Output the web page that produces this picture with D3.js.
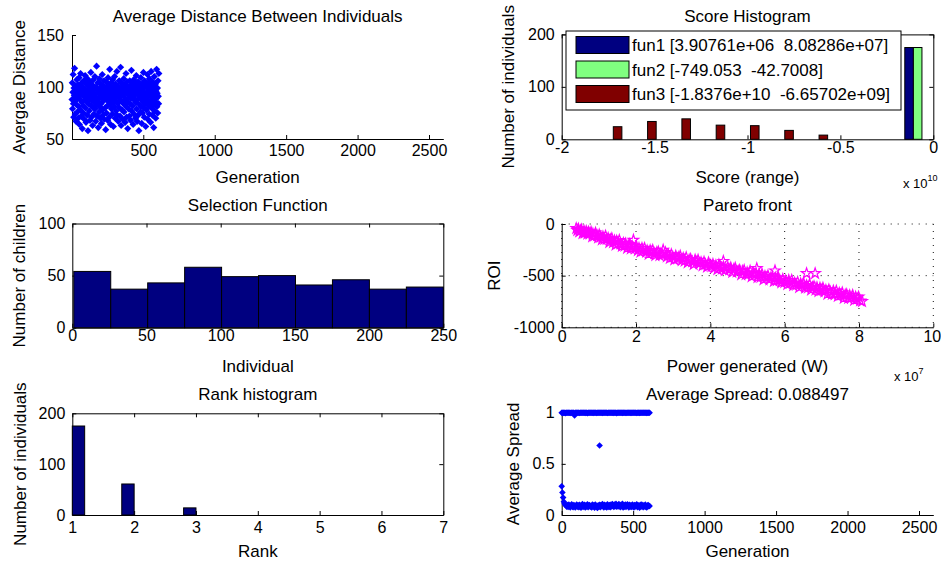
<!DOCTYPE html>
<html>
<head>
<meta charset="utf-8">
<script src="https://cdn.jsdelivr.net/npm/d3@7"></script>
<style>
  body { margin: 0; background: #fff; }
  svg text { font-family: "Liberation Sans", Arial, Helvetica, sans-serif; fill: #000; }
  .tick text { font-size: 16px; }
  .title, .xlabel, .ylabel, .legend-text { font-size: 17px; }
  .legend-text { white-space: pre; }
  .mult { font-size: 13px; }
  .mult-sup { font-size: 9px; }
</style>
</head>
<body>
<svg id="fig" width="941" height="565"></svg>
<script>
// ---------------- data ----------------

// Average distance between individuals, one value every 2 generations starting at generation 1
const distanceStartGen = 1;
const distanceGenStep = 2;
const distanceValues = [
  88,104,79,95,112,84,71,99,92,118,86,74,101,90,67,97,83,107,93,76,
  89,102,70,95,81,109,64,91,99,78,113,87,96,72,104,85,60,94,100,82,
  75,106,91,69,98,88,111,80,93,66,103,86,97,73,108,90,58,95,84,101,
  77,92,105,68,89,99,114,82,71,96,87,102,63,94,80,107,91,74,98,85,
  110,79,93,67,100,88,120,83,72,97,104,86,61,95,90,76,108,81,99,70,
  92,103,84,65,96,89,112,78,101,73,94,87,106,69,91,100,80,97,59,88,
  105,75,93,99,82,68,109,90,86,102,71,95,117,83,98,64,92,104,79,88,
  96,74,107,85,100,62,91,97,81,110,89,70,103,94,77,99,86,115,73,93,
  84,101,67,96,90,106,80,98,72,92,119,87,63,104,95,78,100,85,69,97,
  91,108,76,94,83,102,66,99,88,113,81,71,96,105,86,60,93,100,79,90,
  98,72,106,84,95,68,101,89,116,77,92,103,82,97,64,90,107,74,99,87,
  93,104,70,96,85,111,79,100,67,94,88,105,73,98,58,91,102,83,96,76,
  89,109,81,97,65,103,92,75,99,86,114,80,95,71,106,90,84,101,62,93,
  100,78,94,87,112,69,97,104,82,91,74,108,96,85,99,66,93,115,80,102,
  88,73,105,95,83,100,61,92,110,77,98,86,103,70,96,89,117,81,94,99,
  75,106,91,84,113
];

// Score histogram: counts per bin (10 bins over the full score range) for each objective
const fun1Counts = [0, 0, 0, 0, 0, 0, 0, 0, 0, 175];
const fun2Counts = [0, 0, 0, 0, 0, 0, 0, 0, 0, 175];
const fun3Counts = [24, 34, 39, 27, 26, 17, 8, 0, 0, 0];
const fun3Range = [-1.8376e10, -6.65702e9];
const scoreNames = ["fun1", "fun2", "fun3"];

// Selection function: children per individual bin (10 bins over individuals 1..250)
const selectionRange = [1, 250];
const selectionCounts = [54, 37, 43, 58, 49, 50, 41, 46, 37, 39];

// Pareto front: power generated (units of 1e7 W) against ROI
const paretoPower = [
  0.390761,0.42,0.45,0.47,0.51,0.53,0.56,0.60,0.62,0.66,
  0.69,0.72,0.75,0.79,0.82,0.84,0.88,0.91,0.95,0.98,
  1.01,1.05,1.08,1.11,1.15,1.18,1.21,1.25,1.28,1.31,
  1.35,1.38,1.42,1.45,1.48,1.52,1.55,1.58,1.62,1.66,
  1.69,1.72,1.76,1.79,1.83,1.86,1.9,1.97,2.01,2.05,
  2.08,2.12,2.16,2.19,2.23,2.27,2.3,2.34,2.38,2.41,
  2.45,2.49,2.52,2.56,2.6,2.63,2.67,2.71,2.79,2.83,
  2.87,2.91,2.95,2.99,3.03,3.07,3.11,3.15,3.19,3.23,
  3.27,3.31,3.35,3.39,3.43,3.47,3.51,3.55,3.59,3.63,
  3.67,3.71,3.75,3.79,3.83,3.87,3.91,3.95,3.99,4.03,
  4.07,4.11,4.15,4.19,4.23,4.27,4.31,4.35,4.39,4.47,
  4.51,4.55,4.59,4.63,4.67,4.71,4.75,4.79,4.83,4.87,
  4.91,4.95,4.99,5.03,5.07,5.11,5.15,5.19,5.23,5.27,
  5.31,5.35,5.39,5.43,5.47,5.51,5.55,5.59,5.63,5.67,
  5.71,5.75,5.79,5.83,5.87,5.91,5.95,5.99,6.03,6.07,
  6.11,6.15,6.19,6.23,6.27,6.31,6.35,6.39,6.43,6.47,
  6.51,6.55,6.59,6.63,6.67,6.71,6.75,6.79,6.83,6.87,
  6.91,6.95,6.99,7.03,7.07,7.11,7.15,7.19,7.23,7.27,
  7.31,7.35,7.39,7.43,7.47,7.51,7.55,7.59,7.63,7.67,
  7.71,7.75,7.79,7.83,7.87,7.91,7.95,7.99,8.03,8.08286,
  1.93,2.73,4.35,5.25,5.74,6.59,6.82
];
const paretoROI = [
  -42.7008,-62,-49,-76,-65,-54,-91,-67,-88,-70,
  -97,-76,-95,-78,-123,-95,-113,-86,-111,-134,
  -103,-126,-152,-122,-147,-116,-148,-138,-179,-153,
  -140,-180,-161,-202,-164,-189,-157,-190,-214,-186,
  -212,-190,-235,-208,-199,-239,-217,-240,-214,-256,
  -234,-271,-235,-258,-233,-272,-258,-293,-255,-272,
  -253,-285,-304,-275,-269,-305,-287,-300,-275,-317,
  -296,-332,-295,-319,-347,-309,-337,-324,-309,-352,
  -331,-357,-324,-374,-348,-341,-365,-392,-347,-369,
  -349,-382,-371,-403,-368,-391,-417,-374,-394,-411,
  -389,-426,-400,-441,-395,-419,-435,-413,-451,-417,
  -442,-422,-468,-441,-426,-463,-457,-446,-491,-456,
  -448,-489,-470,-486,-454,-510,-476,-493,-477,-518,
  -488,-515,-483,-539,-505,-521,-500,-540,-520,-512,
  -555,-523,-546,-518,-544,-568,-535,-566,-548,-586,
  -545,-572,-544,-596,-570,-590,-563,-614,-579,-595,
  -574,-619,-594,-616,-582,-639,-613,-604,-639,-615,
  -653,-620,-641,-618,-656,-640,-679,-635,-658,-679,
  -648,-682,-647,-700,-669,-688,-664,-718,-687,-682,
  -719,-691,-715,-689,-738,-707,-726,-705,-743,-749.053,
  -155,-252,-360,-430,-452,-478,-478
];

// Rank histogram: 10 bins over ranks 1..3
const rankRange = [1, 3];
const rankCounts = [175, 0, 0, 0, 61, 0, 0, 0, 0, 14];

// Average spread, one value every 5 generations from generation 0 (two traces)
const spreadGenStep = 5;
const spreadUpper = [
  1,1,0.998,1,1,0.996,1,1,1,0.999,1,1,0.997,1,1,1,0.998,1,0.972,1,
  1,0.999,1,1,1,0.997,1,1,0.999,1,1,1,1,0.998,1,1,0.996,1,1,1,
  0.999,1,1,1,0.998,1,1,1,1,0.997,1,1,0.999,1,1,1,1,0.998,1,1,
  1,0.999,1,1,0.997,1,1,1,1,0.999,1,1,0.998,1,1,1,1,0.996,1,1,
  1,0.999,1,1,1,0.998,1,1,1,1,0.997,1,1,1,0.999,1,1,0.998,1,1,
  1,1,0.999,1,1,0.997,1,1,1,0.998,1,1,1,1,0.999,1,1,1,1,0.998,
  1,1,0.999,1
];
const spreadLower = [
  0.28,0.22,0.17,0.13,0.11,0.1,0.094,0.082,0.097,0.079,0.101,0.086,0.075,0.093,0.104,0.081,0.077,0.098,0.09,0.074,
  0.088,0.103,0.08,0.095,0.076,0.1,0.085,0.072,0.094,0.106,0.079,0.089,0.099,0.073,0.092,0.083,0.105,0.076,0.091,0.097,
  0.08,0.087,0.074,0.101,0.084,0.096,0.071,0.103,0.088,0.078,0.069,0.094,0.082,0.1,0.077,0.098,0.085,0.107,0.083,0.075,
  0.099,0.081,0.092,0.073,0.104,0.086,0.079,0.097,0.076,0.102,0.084,0.108,0.09,0.078,0.101,0.087,0.11,0.08,0.095,0.083,
  0.106,0.089,0.077,0.1,0.085,0.109,0.074,0.096,0.082,0.103,0.079,0.093,0.105,0.086,0.075,0.099,0.081,0.094,0.078,0.102,
  0.088,0.074,0.097,0.083,0.091,0.104,0.077,0.095,0.086,0.072,0.1,0.081,0.103,0.09,0.076,0.096,0.084,0.101,0.079,0.073,
  0.092,0.098,0.085,0.088497
];
const spreadOutlierGen = [265];
const spreadOutlierValue = [0.68];

// ---------------- drawing ----------------
const svg = d3.select("#fig");
const num = d => String(d);

function diamond(r) {
  return `M0,${-r}L${r},0L0,${r}L${-r},0Z`;
}

function panel(c) {
  const x = d3.scaleLinear().domain(c.xDomain).range([c.left, c.right]);
  const y = d3.scaleLinear().domain(c.yDomain).range([c.bottom, c.top]);
  const g = svg.append("g");
  const gridG = g.append("g");
  const axisG = g.append("g");
  const markG = g.append("g");

  if (c.grid) {
    gridG.selectAll("line.gx").data(c.xTicks).join("line")
      .attr("class", "gx")
      .attr("x1", d => x(d)).attr("x2", d => x(d))
      .attr("y1", c.top).attr("y2", c.bottom)
      .attr("stroke", "#111").attr("stroke-width", 1).attr("stroke-dasharray", "1,6");
    gridG.selectAll("line.gy").data(c.yTicks).join("line")
      .attr("class", "gy")
      .attr("y1", d => y(d)).attr("y2", d => y(d))
      .attr("x1", c.left).attr("x2", c.right)
      .attr("stroke", "#111").attr("stroke-width", 1).attr("stroke-dasharray", "1,6");
  }

  const xAxisG = axisG.append("g").attr("transform", `translate(0,${c.bottom})`)
    .call(d3.axisBottom(x).tickValues(c.xTicks).tickFormat(c.xFormat || num)
      .tickSizeInner(-4).tickSizeOuter(0).tickPadding(c.xPad));
  // keep the right-most tick label inside the figure edge
  if (c.lastLabelShift) {
    xAxisG.selectAll(".tick text").filter((d, i, n) => i === n.length - 1)
      .attr("dx", c.lastLabelShift);
  }
  axisG.append("g").attr("transform", `translate(${c.left},0)`)
    .call(d3.axisLeft(y).tickValues(c.yTicks).tickFormat(c.yFormat || num)
      .tickSizeInner(-4).tickSizeOuter(0).tickPadding(c.yPad || 7));
  if (c.box) {
    axisG.append("g").attr("transform", `translate(0,${c.top})`)
      .call(d3.axisTop(x).tickValues(c.xTicks).tickFormat("").tickSizeInner(-4).tickSizeOuter(0));
    axisG.append("g").attr("transform", `translate(${c.right},0)`)
      .call(d3.axisRight(y).tickValues(c.yTicks).tickFormat("").tickSizeInner(-4).tickSizeOuter(0));
  }
  axisG.selectAll("g").attr("font-size", null).attr("font-family", null);
  axisG.selectAll(".domain, .tick line").attr("stroke", "#000").attr("stroke-width", 1);

  const cx = (c.left + c.right) / 2;
  const cy = (c.top + c.bottom) / 2;
  g.append("text").attr("class", "title").attr("x", cx).attr("y", c.titleY)
    .attr("text-anchor", "middle").text(c.title);
  g.append("text").attr("class", "xlabel").attr("x", cx).attr("y", c.xLabelY)
    .attr("text-anchor", "middle").text(c.xLabel);
  g.append("text").attr("class", "ylabel")
    .attr("transform", `translate(${c.yLabelX},${cy}) rotate(-90)`)
    .attr("text-anchor", "middle").text(c.yLabel);
  return { x, y, markG, g };
}

function multiplier(g, xPos, yPos, exp) {
  const t = g.append("text").attr("x", xPos).attr("y", yPos);
  t.append("tspan").attr("class", "mult").text("x 10");
  t.append("tspan").attr("class", "mult-sup").attr("dy", -7).text(exp);
}

const LEFT = [72, 443.3];
const RIGHT = [561.7, 933.3];

// --- Average distance between individuals ---
{
  const p = panel({
    left: LEFT[0], right: LEFT[1], top: 35, bottom: 139,
    xDomain: [1, 2600], yDomain: [50, 150],
    xTicks: [500, 1000, 1500, 2000, 2500], yTicks: [50, 100, 150],
    xPad: 6, yPad: 8,
    title: "Average Distance Between Individuals", titleY: 21.5,
    xLabel: "Generation", xLabelY: 183,
    yLabel: "Avergae Distance", yLabelX: 25
  });
  p.markG.selectAll("path").data(distanceValues).join("path")
    .attr("d", diamond(3.6))
    .attr("transform", (d, i) => `translate(${p.x(distanceStartGen + i * distanceGenStep)},${p.y(d)})`)
    .attr("fill", "#0000ff");
}

// --- Score histogram ---
{
  const p = panel({
    left: RIGHT[0], right: RIGHT[1], top: 34.4, bottom: 139.3,
    xDomain: [-2e10, 0], yDomain: [0, 200],
    xTicks: [-2e10, -1.5e10, -1e10, -0.5e10, 0], yTicks: [0, 100, 200],
    xFormat: d => String(d / 1e10), xPad: 2.5, box: true,
    title: "Score Histogram", titleY: 22,
    xLabel: "Score (range)", xLabelY: 183,
    yLabel: "Number of individuals", yLabelX: 514
  });
  const powerW = paretoPower.map(v => v * 1e7);
  const ranges = [d3.extent(powerW), d3.extent(paretoROI), fun3Range];
  const lo = d3.min(ranges, r => r[0]);
  const hi = d3.max(ranges, r => r[1]);
  const nBins = fun1Counts.length;
  const bw = (hi - lo) / nBins;
  const series = [fun1Counts, fun2Counts, fun3Counts];
  const colors = ["#000080", "#80ff80", "#800000"];
  const slot = bw * 0.25;
  series.forEach((counts, s) => {
    p.markG.append("g").selectAll("rect").data(counts.map((c, i) => ({ c, i })).filter(d => d.c > 0))
      .join("rect")
      .attr("x", d => p.x(lo + bw * (d.i + 0.5) + (s - 1) * slot - slot / 2))
      .attr("width", d => p.x(lo + bw * (d.i + 0.5) + (s - 1) * slot + slot / 2) - p.x(lo + bw * (d.i + 0.5) + (s - 1) * slot - slot / 2))
      .attr("y", d => p.y(d.c))
      .attr("height", d => p.y(0) - p.y(d.c))
      .attr("fill", colors[s]).attr("stroke", "#000").attr("stroke-width", 1);
  });
  // legend
  const g6 = d3.format(".6");
  const fmt = v => g6(v).replace(/\u2212/g, "-").replace(/e([+-])(\d)$/, (m, sgn, dgt) => "e" + sgn + "0" + dgt);
  const lg = p.g.append("g");
  lg.append("rect").attr("x", 566).attr("y", 31).attr("width", 335).attr("height", 79)
    .attr("fill", "#fff").attr("stroke", "#000").attr("stroke-width", 1);
  const rowY = [45, 69.5, 94];
  series.forEach((_, s) => {
    lg.append("rect").attr("x", 576).attr("y", rowY[s] - 8.5).attr("width", 53).attr("height", 17)
      .attr("fill", colors[s]).attr("stroke", "#000").attr("stroke-width", 1);
    lg.append("text").attr("class", "legend-text").attr("x", 632).attr("y", rowY[s] + 6)
      .text(`${scoreNames[s]} [${fmt(ranges[s][0])}  ${fmt(ranges[s][1])}]`);
  });
  multiplier(p.g, 903, 188, "10");
}

// --- Selection function ---
{
  const p = panel({
    left: LEFT[0] + 0.3, right: LEFT[1], top: 223.5, bottom: 327.7,
    xDomain: [0, 250], yDomain: [0, 100],
    xTicks: [0, 50, 100, 150, 200, 250], yTicks: [0, 50, 100],
    xPad: 2, box: true,
    title: "Selection Function", titleY: 210.5,
    xLabel: "Individual", xLabelY: 371.5,
    yLabel: "Number of children", yLabelX: 25
  });
  const bw = (selectionRange[1] - selectionRange[0]) / selectionCounts.length;
  p.markG.selectAll("rect").data(selectionCounts).join("rect")
    .attr("x", (d, i) => p.x(selectionRange[0] + i * bw))
    .attr("width", (d, i) => p.x(selectionRange[0] + (i + 1) * bw) - p.x(selectionRange[0] + i * bw))
    .attr("y", d => p.y(d))
    .attr("height", d => p.y(0) - p.y(d))
    .attr("fill", "#000080").attr("stroke", "#000").attr("stroke-width", 1);
}

// --- Pareto front ---
{
  const p = panel({
    left: RIGHT[0], right: RIGHT[1], top: 224, bottom: 327.3,
    xDomain: [0, 10], yDomain: [-1000, 0],
    xTicks: [0, 2, 4, 6, 8, 10], yTicks: [-1000, -500, 0],
    xPad: 3.5, grid: true, lastLabelShift: -1.5,
    title: "Pareto front", titleY: 210.5,
    xLabel: "Power generated (W)", xLabelY: 371.5,
    yLabel: "ROI", yLabelX: 500
  });
  const star = d3.symbol(d3.symbolStar, 34)();
  p.markG.selectAll("path").data(paretoPower).join("path")
    .attr("d", star)
    .attr("transform", (d, i) => `translate(${p.x(d)},${p.y(paretoROI[i])})`)
    .attr("fill", "none").attr("stroke", "#ff00ff").attr("stroke-width", 1.2);
  multiplier(p.g, 894, 381, "7");
}

// --- Rank histogram ---
{
  const p = panel({
    left: LEFT[0] + 0.3, right: LEFT[1], top: 413.3, bottom: 515,
    xDomain: [1, 7], yDomain: [0, 200],
    xTicks: [1, 2, 3, 4, 5, 6, 7], yTicks: [0, 100, 200],
    xPad: 6.5, box: true,
    title: "Rank histogram", titleY: 400,
    xLabel: "Rank", xLabelY: 556.5,
    yLabel: "Number of individuals", yLabelX: 25.5
  });
  const bw = (rankRange[1] - rankRange[0]) / rankCounts.length;
  p.markG.selectAll("rect").data(rankCounts.map((c, i) => ({ c, i })).filter(d => d.c > 0)).join("rect")
    .attr("x", d => p.x(rankRange[0] + d.i * bw))
    .attr("width", d => p.x(rankRange[0] + (d.i + 1) * bw) - p.x(rankRange[0] + d.i * bw))
    .attr("y", d => p.y(d.c))
    .attr("height", d => p.y(0) - p.y(d.c))
    .attr("fill", "#000080").attr("stroke", "#000").attr("stroke-width", 1);
}

// --- Average spread ---
{
  const last = spreadLower[spreadLower.length - 1];
  const p = panel({
    left: RIGHT[0], right: RIGHT[1], top: 412.7, bottom: 515,
    xDomain: [0, 2600], yDomain: [0, 1],
    xTicks: [0, 500, 1000, 1500, 2000, 2500], yTicks: [0, 0.5, 1],
    xPad: 6.5,
    title: "Average Spread: " + last, titleY: 400,
    xLabel: "Generation", xLabelY: 557,
    yLabel: "Average Spread", yLabelX: 519
  });
  const d4 = diamond(3.3);
  [spreadUpper, spreadLower].forEach(vals => {
    p.markG.append("g").selectAll("path").data(vals).join("path")
      .attr("d", d4)
      .attr("transform", (d, i) => `translate(${p.x(i * spreadGenStep)},${p.y(d)})`)
      .attr("fill", "#0000ff");
  });
  p.markG.append("g").selectAll("path").data(spreadOutlierValue).join("path")
    .attr("d", d4)
    .attr("transform", (d, i) => `translate(${p.x(spreadOutlierGen[i])},${p.y(d)})`)
    .attr("fill", "#0000ff");
}
</script>
</body>
</html>
